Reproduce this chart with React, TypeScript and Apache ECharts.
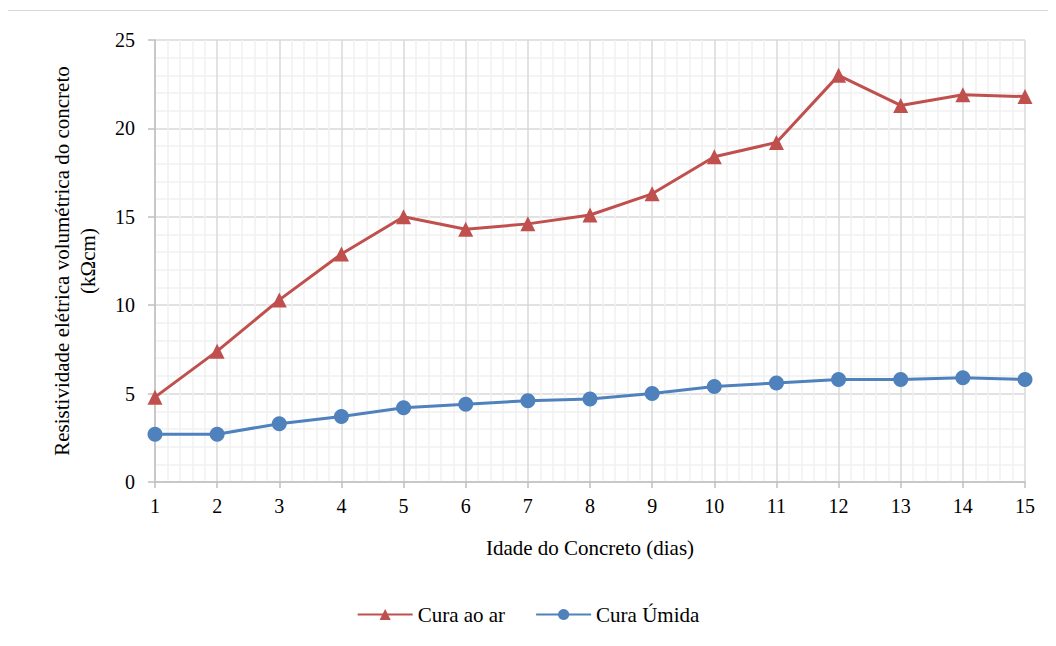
import React, { useEffect, useRef } from "react";
import * as echarts from "echarts";

const days = [1, 2, 3, 4, 5, 6, 7, 8, 9, 10, 11, 12, 13, 14, 15];
const curaAoAr = [4.8, 7.4, 10.3, 12.9, 15.0, 14.3, 14.6, 15.1, 16.3, 18.4, 19.2, 23.0, 21.3, 21.9, 21.8];
const curaUmida = [2.7, 2.7, 3.3, 3.7, 4.2, 4.4, 4.6, 4.7, 5.0, 5.4, 5.6, 5.8, 5.8, 5.9, 5.8];
const seriesNames = ["Cura ao ar", "Cura Úmida"];
const xTitle = "Idade do Concreto (dias)";
const yTitle = "Resistividade elétrica volumétrica do concreto\n(kΩcm)";

const FONT = "Liberation Serif";

export default function App() {
  const ref = useRef<HTMLDivElement>(null);
  useEffect(() => {
    if (!ref.current) return;
    const chart = echarts.init(ref.current, undefined, { renderer: "svg" });
    chart.setOption({
      animation: false,
      grid: { left: 155, right: 31, top: 40, bottom: 164 },
      legend: {
        bottom: 16,
        left: "center",
        itemGap: 30,
        itemWidth: 55,
        itemHeight: 14,
        textStyle: { fontFamily: FONT, fontSize: 21, color: "#000000" },
        data: seriesNames,
      },
      xAxis: {
        type: "value",
        min: 1,
        max: 15,
        interval: 1,
        name: xTitle,
        nameLocation: "middle",
        nameGap: 55,
        nameTextStyle: { fontFamily: FONT, fontSize: 21, color: "#000000" },
        axisLine: { show: true, lineStyle: { color: "#bfbfbf", width: 1.5 } },
        axisTick: { show: true, length: 6, lineStyle: { color: "#bfbfbf", width: 1.5 } },
        axisLabel: { fontFamily: FONT, fontSize: 20, color: "#000000", margin: 14 },
        splitLine: { show: true, lineStyle: { color: "#d9d9d9", width: 1.5 } },
        minorTick: { show: false, splitNumber: 5 },
        minorSplitLine: { show: true, lineStyle: { color: "#f0f0f0", width: 1.5 } },
      },
      yAxis: {
        type: "value",
        min: 0,
        max: 25,
        interval: 5,
        name: yTitle,
        nameLocation: "middle",
        nameGap: 54,
        nameTextStyle: { fontFamily: FONT, fontSize: 21, color: "#000000", lineHeight: 26 },
        axisLine: { show: true, lineStyle: { color: "#bfbfbf", width: 1.5 } },
        axisTick: { show: true, length: 7, lineStyle: { color: "#bfbfbf", width: 1.5 } },
        axisLabel: { fontFamily: FONT, fontSize: 20, color: "#000000", margin: 20 },
        splitLine: { show: true, lineStyle: { color: "#d9d9d9", width: 1.5 } },
        minorTick: { show: false, splitNumber: 5 },
        minorSplitLine: { show: true, lineStyle: { color: "#f0f0f0", width: 1.5 } },
      },
      series: [
        {
          name: seriesNames[0],
          type: "line",
          data: days.map((d, i) => [d, curaAoAr[i]]),
          symbol: "triangle",
          symbolSize: 15,
          itemStyle: { color: "#c0504d" },
          lineStyle: { color: "#c0504d", width: 3 },
        },
        {
          name: seriesNames[1],
          type: "line",
          data: days.map((d, i) => [d, curaUmida[i]]),
          symbol: "circle",
          symbolSize: 15,
          itemStyle: { color: "#4f81bd" },
          lineStyle: { color: "#4f81bd", width: 3 },
        },
      ],
    });
    return () => chart.dispose();
  }, []);
  return (
    <div style={{ margin: -8, width: 1056, height: 646, position: "relative", overflow: "hidden" }}>
      <div
        style={{
          position: "absolute",
          left: 3,
          top: 10,
          width: 1200,
          height: 800,
          borderTop: "1.5px solid #d9d9d9",
          borderLeft: "1.5px solid #d9d9d9",
        }}
      />
      <div ref={ref} style={{ width: 1056, height: 646 }} />
    </div>
  );
}
